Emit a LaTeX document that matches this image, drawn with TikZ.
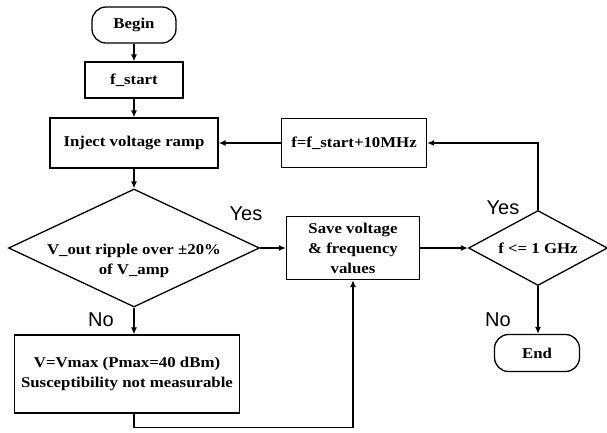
\documentclass[tikz,border=0pt]{standalone}
\usepackage{fontspec}
\setmainfont{Liberation Serif}[FakeStretch=1.12]
\newfontfamily\lblfont{Liberation Sans}
\usetikzlibrary{shapes.geometric,arrows.meta}

\begin{document}
\begin{tikzpicture}[x=1pt,y=-1pt,
  every node/.style={font=\fontsize{15}{20}\selectfont\bfseries,align=center,inner sep=0pt},
  box/.style={draw,line width=1.3pt,fill=white,rectangle},
  term/.style={box,rounded corners=14pt},
  test/.style={draw,line width=1.3pt,fill=white,diamond},
  lbl/.style={font=\fontsize{20}{20}\lblfont},
  line/.style={line width=1.3pt,-{Latex[length=7pt,width=6pt]}}]
\fill[white] (0,0) rectangle (607,432);
\useasboundingbox (0,0) rectangle (607,432);
% left column
\node[term,minimum width=84pt,minimum height=36pt] (begin) at (134,25) {Begin};
\node[box,minimum width=98pt,minimum height=36pt] (fstart) at (134,80) {f\_start};
\node[box,minimum width=168pt,minimum height=50pt] (inject) at (134,143) {Inject voltage ramp};
\node[test,minimum width=251pt,minimum height=118pt,
  label={[yshift=-13pt]center:{V\_out ripple over ±20\%\\of V\_amp}}] (ripple) at (134,248) {};
\node[box,minimum width=225pt,minimum height=78pt] (vmax) at (127,374) {V=Vmax (Pmax=40 dBm)\\Susceptibility not measurable};
% middle and right
\node[box,minimum width=133pt,minimum height=63pt] (save) at (353,248) {Save voltage\\\& frequency\\values};
\node[box,minimum width=145pt,minimum height=49pt] (fnext) at (354,143) {f=f\_start+10MHz};
\node[test,minimum width=139pt,minimum height=75pt,label={center:{f <= 1 GHz}}] (fmax) at (538,248) {};
\node[term,minimum width=85pt,minimum height=37pt] (end) at (537,353) {End};
% branch labels
\node[lbl] (yes1) at (246,214) {Yes};
\node[lbl] (no1) at (101,320) {No};
\node[lbl] (yes2) at (503,208) {Yes};
\node[lbl] (no2) at (498,320) {No};
% connectors
\draw[line] (begin) -- (fstart);
\draw[line] (fstart) -- (inject);
\draw[line] (inject) -- (ripple);
\draw[line] (ripple.south) -- (ripple.south |- vmax.north);
\draw[line] (ripple) -- (save);
\draw[line] (save) -- (fmax);
\draw[line] (fmax.south) -- (fmax.south |- end.north);
\draw[line] (fmax.north) |- (fnext);
\draw[line] (fnext) -- (inject);
\draw[line] (ripple.south |- vmax.south) -- ++(0,14) -| (save.south);
\end{tikzpicture}
\end{document}
